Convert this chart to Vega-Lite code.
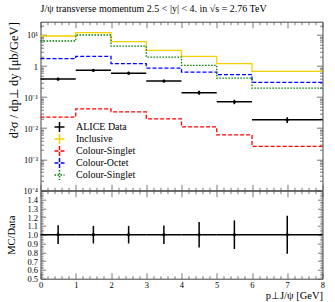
{
  "$schema": "https://vega.github.io/schema/vega-lite/v6.json",
  "padding": {"left": 5.5, "top": 3.7, "right": 5, "bottom": 2},
  "title": {"text": "J/ψ transverse momentum 2.5 < |y| < 4. in √s = 2.76 TeV", "anchor": "start", "frame": "group", "fontSize": 10, "font": "Liberation Serif", "fontWeight": "normal", "offset": 7, "color": "#000"},
  "datasets": {
    "hist": [
      {"series": "Inclusive", "x": 0, "y": 9.3}, {"series": "Inclusive", "x": 1, "y": 11.9}, {"series": "Inclusive", "x": 2, "y": 6.1}, {"series": "Inclusive", "x": 3, "y": 3.2}, {"series": "Inclusive", "x": 4, "y": 2.05}, {"series": "Inclusive", "x": 5, "y": 1.19}, {"series": "Inclusive", "x": 6, "y": 0.67}, {"series": "Inclusive", "x": 8, "y": 0.67},
      {"series": "Colour-Singlet", "x": 0, "y": 0.0226}, {"series": "Colour-Singlet", "x": 1, "y": 0.042}, {"series": "Colour-Singlet", "x": 2, "y": 0.0336}, {"series": "Colour-Singlet", "x": 3, "y": 0.02}, {"series": "Colour-Singlet", "x": 4, "y": 0.011}, {"series": "Colour-Singlet", "x": 5, "y": 0.0061}, {"series": "Colour-Singlet", "x": 6, "y": 0.0026}, {"series": "Colour-Singlet", "x": 8, "y": 0.0026},
      {"series": "Colour-Octet", "x": 0, "y": 1.73}, {"series": "Colour-Octet", "x": 1, "y": 2.05}, {"series": "Colour-Octet", "x": 2, "y": 1.19}, {"series": "Colour-Octet", "x": 3, "y": 0.86}, {"series": "Colour-Octet", "x": 4, "y": 0.64}, {"series": "Colour-Octet", "x": 5, "y": 0.53}, {"series": "Colour-Octet", "x": 6, "y": 0.3}, {"series": "Colour-Octet", "x": 8, "y": 0.3},
      {"series": "Colour-Singlet 2", "x": 0, "y": 6.4}, {"series": "Colour-Singlet 2", "x": 1, "y": 10}, {"series": "Colour-Singlet 2", "x": 2, "y": 4.4}, {"series": "Colour-Singlet 2", "x": 3, "y": 1.95}, {"series": "Colour-Singlet 2", "x": 4, "y": 1.05}, {"series": "Colour-Singlet 2", "x": 5, "y": 0.41}, {"series": "Colour-Singlet 2", "x": 6, "y": 0.195}, {"series": "Colour-Singlet 2", "x": 8, "y": 0.195}
    ],
    "pts": [
      {"x": 0.5, "x1": 0, "x2": 1, "y": 0.38, "ylo": 0.34, "yhi": 0.42, "r": 1, "rlo": 0.894, "rhi": 1.106},
      {"x": 1.5, "x1": 1, "x2": 2, "y": 0.73, "ylo": 0.657, "yhi": 0.803, "r": 1, "rlo": 0.9, "rhi": 1.1},
      {"x": 2.5, "x1": 2, "x2": 3, "y": 0.59, "ylo": 0.531, "yhi": 0.649, "r": 1, "rlo": 0.9, "rhi": 1.1},
      {"x": 3.5, "x1": 3, "x2": 4, "y": 0.33, "ylo": 0.297, "yhi": 0.363, "r": 1, "rlo": 0.895, "rhi": 1.105},
      {"x": 4.5, "x1": 4, "x2": 5, "y": 0.139, "ylo": 0.119, "yhi": 0.159, "r": 1, "rlo": 0.855, "rhi": 1.145},
      {"x": 5.5, "x1": 5, "x2": 6, "y": 0.0706, "ylo": 0.0591, "yhi": 0.0821, "r": 1, "rlo": 0.837, "rhi": 1.163},
      {"x": 7, "x1": 6, "x2": 8, "y": 0.0186, "ylo": 0.0146, "yhi": 0.0226, "r": 1, "rlo": 0.784, "rhi": 1.216}
    ]
  },
  "spacing": 0,
  "bounds": "flush",
  "vconcat": [
    {
      "width": 282,
      "height": 168.6,
      "resolve": {"axis": {"x": "independent", "y": "independent"}},
      "layer": [
        {
          "data": {"name": "hist"},
          "mark": {"type": "line", "interpolate": "step-after", "strokeWidth": 1.3},
          "encoding": {
            "x": {"field": "x", "type": "quantitative", "scale": {"domain": [0, 8], "nice": false, "zero": false}, "axis": null},
            "y": {"field": "y", "type": "quantitative", "scale": {"type": "log", "domain": [0.0001, 26.8], "nice": false}, "axis": null},
            "color": {"field": "series", "type": "nominal",
              "scale": {"domain": ["ALICE Data", "Inclusive", "Colour-Singlet", "Colour-Octet", "Colour-Singlet 2"], "range": ["#000000", "#f5d000", "#ff0000", "#0000ff", "#008000"]},
              "legend": {"orient": "none", "legendX": 13, "legendY": 99.5, "title": null, "symbolType": "M-1,0L1,0M0,-1L0,1", "symbolSize": 100, "symbolStrokeWidth": 1.5, "labelFont": "Liberation Serif", "labelFontSize": 10, "labelColor": "#000", "labelOffset": 10.5, "rowPadding": 0, "clipHeight": 11.7, "labelExpr": "replace(datum.label, ' 2', '')"}},
            "strokeDash": {"field": "series", "type": "nominal",
              "scale": {"domain": ["ALICE Data", "Inclusive", "Colour-Singlet", "Colour-Octet", "Colour-Singlet 2"], "range": [[1, 0], [1, 0], [4, 2], [4, 2], [1.5, 1.5]]},
              "legend": {"orient": "none", "legendX": 13, "legendY": 99.5, "title": null, "symbolType": "M-1,0L1,0M0,-1L0,1", "symbolSize": 100, "symbolStrokeWidth": 1.5, "labelFont": "Liberation Serif", "labelFontSize": 10, "labelColor": "#000", "labelOffset": 10.5, "rowPadding": 0, "clipHeight": 11.7, "labelExpr": "replace(datum.label, ' 2', '')"}}
          }
        },
        {
          "data": {"name": "pts"},
          "mark": {"type": "rule", "color": "#000", "strokeWidth": 1.5},
          "encoding": {
            "x": {"field": "x1", "type": "quantitative", "axis": null},
            "x2": {"field": "x2"},
            "y": {"field": "y", "type": "quantitative", "axis": null}
          }
        },
        {
          "data": {"name": "pts"},
          "mark": {"type": "rule", "color": "#000", "strokeWidth": 1.5},
          "encoding": {
            "x": {"field": "x", "type": "quantitative", "axis": null},
            "y": {"field": "ylo", "type": "quantitative", "axis": null},
            "y2": {"field": "yhi"}
          }
        },
        {
          "data": {"name": "pts"},
          "mark": {"type": "point", "filled": true, "color": "#000", "size": 10, "opacity": 1},
          "encoding": {
            "x": {"field": "x", "type": "quantitative", "axis": null},
            "y": {"field": "y", "type": "quantitative", "axis": null}
          }
        },
        {
          "data": {"name": "pts"},
          "mark": {"type": "point", "opacity": 0},
          "encoding": {
            "x": {"field": "x", "type": "quantitative", "axis": {"orient": "bottom", "values": [0, 1, 2, 3, 4, 5, 6, 7, 8], "labels": false, "tickSize": -6, "title": null}},
            "y": {"field": "y", "type": "quantitative", "axis": {"orient": "left", "values": [0.0001, 0.001, 0.01, 0.1, 1, 10], "ticks": false, "labelPadding": 3, "labelFontSize": 8.5, "labelExpr": "datum.value == 1 ? '1' : datum.value == 10 ? '10¹' : datum.value == 0.1 ? '10⁻¹' : datum.value == 0.01 ? '10⁻²' : datum.value == 0.001 ? '10⁻³' : '10⁻⁴'", "title": "d²σ / dp⊥ dy  [μb/GeV]", "titleFontSize": 12.5, "titleAnchor": "end", "titleX": -20.5}}
          }
        },
        {
          "data": {"name": "pts"},
          "mark": {"type": "point", "opacity": 0},
          "encoding": {
            "x": {"field": "x", "type": "quantitative", "axis": {"orient": "bottom", "values": [0.2, 0.4, 0.6, 0.8, 1.2, 1.4, 1.6, 1.8, 2.2, 2.4, 2.6, 2.8, 3.2, 3.4, 3.6, 3.8, 4.2, 4.4, 4.6, 4.8, 5.2, 5.4, 5.6, 5.8, 6.2, 6.4, 6.6, 6.8, 7.2, 7.4, 7.6, 7.8], "labels": false, "tickSize": -3, "title": null}},
            "y": {"field": "y", "type": "quantitative", "axis": {"orient": "left", "values": [0.0001, 0.001, 0.01, 0.1, 1, 10], "labels": false, "tickSize": -6, "title": null}}
          }
        },
        {
          "data": {"name": "pts"},
          "mark": {"type": "point", "opacity": 0},
          "encoding": {
            "x": {"field": "x", "type": "quantitative", "axis": {"orient": "top", "values": [0, 1, 2, 3, 4, 5, 6, 7, 8], "labels": false, "tickSize": -6, "title": null}},
            "y": {"field": "y", "type": "quantitative", "axis": {"orient": "left", "values": [0.0002, 0.0003, 0.0004, 0.0005, 0.0006, 0.0007, 0.0008, 0.0009, 0.002, 0.003, 0.004, 0.005, 0.006, 0.007, 0.008, 0.009, 0.02, 0.03, 0.04, 0.05, 0.06, 0.07, 0.08, 0.09, 0.2, 0.3, 0.4, 0.5, 0.6, 0.7, 0.8, 0.9, 2, 3, 4, 5, 6, 7, 8, 9, 20], "labels": false, "tickSize": -3, "title": null}}
          }
        },
        {
          "data": {"name": "pts"},
          "mark": {"type": "point", "opacity": 0},
          "encoding": {
            "x": {"field": "x", "type": "quantitative", "axis": {"orient": "top", "values": [0.2, 0.4, 0.6, 0.8, 1.2, 1.4, 1.6, 1.8, 2.2, 2.4, 2.6, 2.8, 3.2, 3.4, 3.6, 3.8, 4.2, 4.4, 4.6, 4.8, 5.2, 5.4, 5.6, 5.8, 6.2, 6.4, 6.6, 6.8, 7.2, 7.4, 7.6, 7.8], "labels": false, "tickSize": -3, "title": null}},
            "y": {"field": "y", "type": "quantitative", "axis": {"orient": "right", "values": [0.0001, 0.001, 0.01, 0.1, 1, 10], "labels": false, "tickSize": -6, "title": null}}
          }
        },
        {
          "data": {"name": "pts"},
          "mark": {"type": "point", "opacity": 0},
          "encoding": {
            "x": {"field": "x", "type": "quantitative", "axis": null},
            "y": {"field": "y", "type": "quantitative", "axis": {"orient": "right", "values": [0.0002, 0.0003, 0.0004, 0.0005, 0.0006, 0.0007, 0.0008, 0.0009, 0.002, 0.003, 0.004, 0.005, 0.006, 0.007, 0.008, 0.009, 0.02, 0.03, 0.04, 0.05, 0.06, 0.07, 0.08, 0.09, 0.2, 0.3, 0.4, 0.5, 0.6, 0.7, 0.8, 0.9, 2, 3, 4, 5, 6, 7, 8, 9, 20], "labels": false, "tickSize": -3, "title": null}}
          }
        }
      ]
    },
    {
      "width": 282,
      "height": 88,
      "data": {"name": "pts"},
      "resolve": {"axis": {"x": "independent", "y": "independent"}},
      "layer": [
        {
          "mark": {"type": "rule", "color": "#000", "strokeWidth": 1.5},
          "encoding": {
            "x": {"field": "x1", "type": "quantitative", "scale": {"domain": [0, 8], "nice": false, "zero": false}, "axis": null},
            "x2": {"field": "x2"},
            "y": {"field": "r", "type": "quantitative", "scale": {"domain": [0.5, 1.5], "nice": false, "zero": false}, "axis": null}
          }
        },
        {
          "mark": {"type": "rule", "color": "#000", "strokeWidth": 1.5},
          "encoding": {
            "x": {"field": "x", "type": "quantitative", "axis": null},
            "y": {"field": "rlo", "type": "quantitative", "axis": null},
            "y2": {"field": "rhi"}
          }
        },
        {
          "mark": {"type": "point", "filled": true, "color": "#000", "size": 10, "opacity": 1},
          "encoding": {
            "x": {"field": "x", "type": "quantitative", "axis": null},
            "y": {"field": "r", "type": "quantitative", "axis": null}
          }
        },
        {
          "mark": {"type": "point", "opacity": 0},
          "encoding": {
            "x": {"field": "x", "type": "quantitative", "axis": {"orient": "bottom", "values": [0, 1, 2, 3, 4, 5, 6, 7, 8], "ticks": false, "labelPadding": 2, "labelFontSize": 8.5, "title": "p⊥J/ψ [GeV]", "titleFontSize": 10.5, "titleAnchor": "end", "titlePadding": 1}},
            "y": {"field": "r", "type": "quantitative", "axis": {"orient": "left", "values": [0.5, 0.6, 0.7, 0.8, 0.9, 1.0, 1.1, 1.2, 1.3, 1.4], "format": ".1f", "ticks": false, "labelPadding": 3, "labelFontSize": 8.5, "title": "MC/Data", "titleFontSize": 10.5, "titleX": -24.5}}
          }
        },
        {
          "mark": {"type": "point", "opacity": 0},
          "encoding": {
            "x": {"field": "x", "type": "quantitative", "axis": {"orient": "bottom", "values": [0, 1, 2, 3, 4, 5, 6, 7, 8], "labels": false, "tickSize": -6, "title": null}},
            "y": {"field": "r", "type": "quantitative", "axis": {"orient": "left", "values": [0.5, 0.6, 0.7, 0.8, 0.9, 1.0, 1.1, 1.2, 1.3, 1.4, 1.5], "labels": false, "tickSize": -5, "title": null}}
          }
        },
        {
          "mark": {"type": "point", "opacity": 0},
          "encoding": {
            "x": {"field": "x", "type": "quantitative", "axis": {"orient": "bottom", "values": [0.2, 0.4, 0.6, 0.8, 1.2, 1.4, 1.6, 1.8, 2.2, 2.4, 2.6, 2.8, 3.2, 3.4, 3.6, 3.8, 4.2, 4.4, 4.6, 4.8, 5.2, 5.4, 5.6, 5.8, 6.2, 6.4, 6.6, 6.8, 7.2, 7.4, 7.6, 7.8], "labels": false, "tickSize": -3, "title": null}},
            "y": {"field": "r", "type": "quantitative", "axis": {"orient": "left", "values": [0.52, 0.54, 0.56, 0.58, 0.62, 0.64, 0.66, 0.68, 0.72, 0.74, 0.76, 0.78, 0.82, 0.84, 0.86, 0.88, 0.92, 0.94, 0.96, 0.98, 1.02, 1.04, 1.06, 1.08, 1.12, 1.14, 1.16, 1.18, 1.22, 1.24, 1.26, 1.28, 1.32, 1.34, 1.36, 1.38, 1.42, 1.44, 1.46, 1.48], "labels": false, "tickSize": -2.5, "title": null}}
          }
        },
        {
          "mark": {"type": "point", "opacity": 0},
          "encoding": {
            "x": {"field": "x", "type": "quantitative", "axis": {"orient": "top", "values": [0, 1, 2, 3, 4, 5, 6, 7, 8], "labels": false, "tickSize": -6, "title": null}},
            "y": {"field": "r", "type": "quantitative", "axis": {"orient": "right", "values": [0.5, 0.6, 0.7, 0.8, 0.9, 1.0, 1.1, 1.2, 1.3, 1.4, 1.5], "labels": false, "tickSize": -5, "title": null}}
          }
        },
        {
          "mark": {"type": "point", "opacity": 0},
          "encoding": {
            "x": {"field": "x", "type": "quantitative", "axis": {"orient": "top", "values": [0.2, 0.4, 0.6, 0.8, 1.2, 1.4, 1.6, 1.8, 2.2, 2.4, 2.6, 2.8, 3.2, 3.4, 3.6, 3.8, 4.2, 4.4, 4.6, 4.8, 5.2, 5.4, 5.6, 5.8, 6.2, 6.4, 6.6, 6.8, 7.2, 7.4, 7.6, 7.8], "labels": false, "tickSize": -3, "title": null}},
            "y": {"field": "r", "type": "quantitative", "axis": {"orient": "right", "values": [0.52, 0.54, 0.56, 0.58, 0.62, 0.64, 0.66, 0.68, 0.72, 0.74, 0.76, 0.78, 0.82, 0.84, 0.86, 0.88, 0.92, 0.94, 0.96, 0.98, 1.02, 1.04, 1.06, 1.08, 1.12, 1.14, 1.16, 1.18, 1.22, 1.24, 1.26, 1.28, 1.32, 1.34, 1.36, 1.38, 1.42, 1.44, 1.46, 1.48], "labels": false, "tickSize": -2.5, "title": null}}
          }
        }
      ]
    }
  ],
  "config": {
    "font": "Liberation Serif",
    "view": {"stroke": "#444", "strokeWidth": 1},
    "legend": {"symbolLimit": 0},
    "axis": {"domain": false, "grid": false, "labelFont": "Liberation Serif", "labelColor": "#000", "tickColor": "#555", "tickWidth": 0.8, "titleFont": "Liberation Serif", "titleFontWeight": "normal", "titleFontSize": 10, "titleColor": "#000", "labelOverlap": false, "labelBound": false, "labelFlush": false}
  }
}
